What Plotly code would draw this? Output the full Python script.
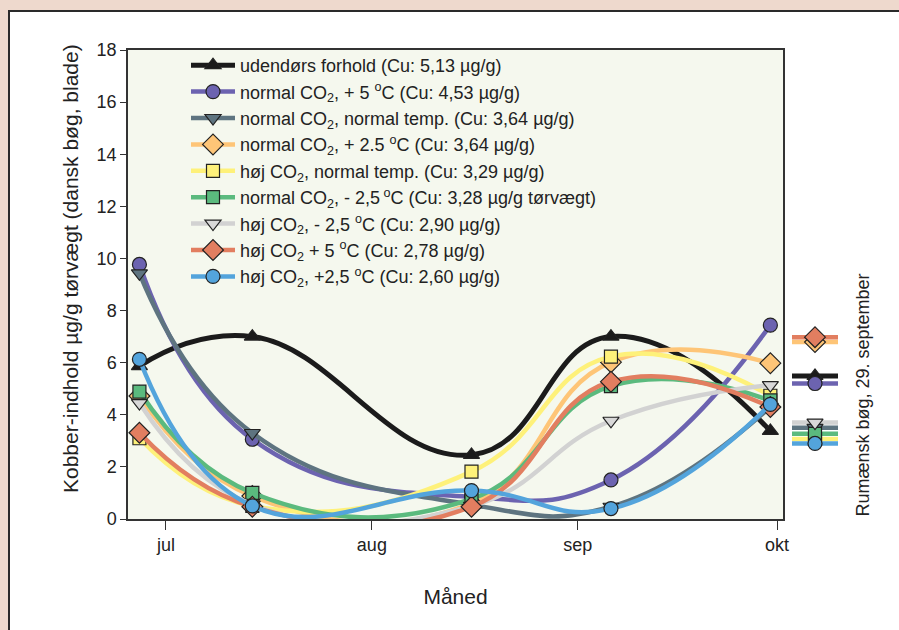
import plotly.graph_objects as go

# ---------------- data ----------------
sample_dates = ["2008-06-27", "2008-07-14", "2008-08-16", "2008-09-06", "2008-09-30"]
month_ticks = ["2008-07-01", "2008-08-01", "2008-09-01", "2008-10-01"]
month_labels = ["jul", "aug", "sep", "okt"]

series_names = [
    "udendørs forhold (Cu: 5,13 µg/g)",
    "normal CO<sub>2</sub>, + 5 <sup>o</sup>C (Cu: 4,53 µg/g)",
    "normal CO<sub>2</sub>, normal temp. (Cu: 3,64 µg/g)",
    "normal CO<sub>2</sub>, + 2.5 <sup>o</sup>C (Cu: 3,64 µg/g)",
    "høj CO<sub>2</sub>, normal temp. (Cu: 3,29 µg/g)",
    "normal CO<sub>2</sub>, - 2,5<sup> o</sup>C (Cu: 3,28 µg/g tørvægt)",
    "høj CO<sub>2</sub>, - 2,5 <sup>o</sup>C (Cu: 2,90 µg/g)",
    "høj CO<sub>2</sub> + 5 <sup>o</sup>C (Cu: 2,78 µg/g)",
    "høj CO<sub>2</sub>, +2,5 <sup>o</sup>C (Cu: 2,60 µg/g)",
]

udendoers = [5.87, 7.00, 2.46, 7.00, 3.38]
normal_co2_plus5 = [9.77, 3.06, 0.85, 1.50, 7.44]
normal_co2_normal = [9.43, 3.30, 0.55, 0.47, 4.30]
normal_co2_plus25 = [4.72, 0.88, 0.60, 6.02, 5.98]
hoej_co2_normal = [3.10, 0.50, 1.82, 6.23, 4.73]
normal_co2_minus25 = [4.89, 1.00, 0.77, 5.10, 4.55]
hoej_co2_minus25 = [4.45, 0.55, 0.50, 3.77, 5.14]
hoej_co2_plus5 = [3.31, 0.47, 0.47, 5.27, 4.30]
hoej_co2_plus25 = [6.13, 0.50, 1.09, 0.40, 4.40]

# Romanian beech, 29 September (right-hand markers)
rumaensk_sep29 = [5.49, 5.20, 3.50, 6.79, 3.07, 3.27, 3.70, 6.98, 2.90]

series_values = [udendoers, normal_co2_plus5, normal_co2_normal, normal_co2_plus25,
                 hoej_co2_normal, normal_co2_minus25, hoej_co2_minus25, hoej_co2_plus5,
                 hoej_co2_plus25]

y_title = "Kobber-indhold µg/g tørvægt (dansk bøg, blade)"
x_title = "Måned"
right_title = "Rumænsk bøg, 29. september"

# ---------------- styles ----------------
line_colors = ["#1b1b1b", "#6C63B0", "#5E7480", "#FEC577", "#FEF17A",
               "#5BBA7E", "#D2D2D2", "#E27E60", "#53A4DC"]
marker_fills = ["#1b1b1b", "#6C63B0", "#5E7480", "#FEC577", "#FEF17A",
                "#5BBA7E", "#D8D8D8", "#E27E60", "#53A4DC"]
symbols = ["triangle-up", "circle", "triangle-down", "diamond", "square",
           "square", "triangle-down", "diamond", "circle"]
sizes = [14, 14, 14, 16, 13, 13, 14, 16, 14]
line_widths = [5, 4.5, 4.5, 4.5, 4.5, 4.5, 4.5, 4.5, 4.5]

W, H = 899, 630
ML, MR, MT, MB = 128, 59, 50, 111
pw = W - ML - MR
ph = H - MT - MB
main_right = (783 - ML) / pw
x2_left = (792 - ML) / pw
x2_right = (838 - ML) / pw

fig = go.Figure()

for name, vals, lc, mf, sym, sz, lw in zip(series_names, series_values, line_colors,
                                           marker_fills, symbols, sizes, line_widths):
    fig.add_trace(go.Scatter(
        x=sample_dates, y=vals, name=name, mode="lines+markers",
        line=dict(color=lc, width=lw, shape="spline", smoothing=1.3),
        marker=dict(symbol=sym, size=sz, color=mf, line=dict(color="#222222", width=1.2)),
        xaxis="x", yaxis="y",
    ))

# right-hand indicator lines and markers
for v, lc, lw in zip(rumaensk_sep29, line_colors, line_widths):
    fig.add_trace(go.Scatter(
        x=[0, 1], y=[v, v], mode="lines", showlegend=False, hoverinfo="skip",
        line=dict(color=lc, width=lw), xaxis="x2", yaxis="y",
    ))
for v, mf, sym, sz in zip(rumaensk_sep29, marker_fills, symbols, sizes):
    fig.add_trace(go.Scatter(
        x=[0.5], y=[v], mode="markers", showlegend=False, hoverinfo="skip",
        marker=dict(symbol=sym, size=sz, color=mf, line=dict(color="#222222", width=1.2)),
        xaxis="x2", yaxis="y",
    ))

font_family = "Liberation Sans, Arial, sans-serif"

fig.update_layout(
    width=W, height=H,
    margin=dict(l=ML, r=MR, t=MT, b=MB),
    paper_bgcolor="#EED9CD",
    plot_bgcolor="rgba(0,0,0,0)",
    font=dict(family=font_family, size=18, color="#222222"),
    showlegend=True,
    legend=dict(
        x=(186 - ML) / pw, y=1.0 + 3 / ph, xanchor="left", yanchor="top",
        bgcolor="rgba(0,0,0,0)", font=dict(size=18, color="#222222"),
        tracegroupgap=0, itemwidth=44,
    ),
    xaxis=dict(
        domain=[0, main_right], type="date",
        range=["2008-06-25 06:43", "2008-10-01 21:41"],
        tickvals=month_ticks, ticktext=month_labels,
        ticks="outside", ticklen=9, tickcolor="#333333",
        showgrid=False, zeroline=False,
        showline=True, linecolor="#333333", linewidth=1.5, mirror=True,
        tickfont=dict(size=18, color="#222222"),
        title=dict(text=x_title, font=dict(size=21, color="#222222"), standoff=35),
    ),
    yaxis=dict(
        range=[0, 18], tickvals=[0, 2, 4, 6, 8, 10, 12, 14, 16, 18],
        ticks="outside", ticklen=6, tickcolor="#333333",
        showgrid=False, zeroline=False,
        showline=True, linecolor="#333333", linewidth=1.5, mirror=True,
        tickfont=dict(size=18, color="#222222"),
    ),
    xaxis2=dict(domain=[x2_left, x2_right], range=[0, 1], visible=False,
                anchor="y", fixedrange=True),
    shapes=[
        # white panel with dark frame
        dict(type="rect", xref="paper", yref="paper", layer="below",
             x0=(9 - ML) / pw, x1=(W + 20 - ML) / pw,
             y0=-(MB + 20) / ph, y1=(H - MB - 11) / ph,
             fillcolor="white", line=dict(color="#2a2a2a", width=2)),
        # plot background
        dict(type="rect", xref="x domain", yref="y domain", layer="below",
             x0=0, x1=1, y0=0, y1=1, fillcolor="#F5F8EE", line=dict(width=0)),
    ],
    annotations=[
        dict(text=right_title, xref="paper", yref="paper",
             x=(862 - ML) / pw, y=0, xanchor="center", yanchor="bottom",
             textangle=-90, showarrow=False, font=dict(size=18, color="#222222")),
        dict(text=y_title, xref="paper", yref="paper",
             x=(70 - ML) / pw, y=(H - MB - 269) / ph, xanchor="center", yanchor="middle",
             textangle=-90, showarrow=False, font=dict(size=21, color="#222222")),
    ],
)

fig.write_html("out.html", config={"displayModeBar": False},
               post_script="document.body.style.margin='0px';")
